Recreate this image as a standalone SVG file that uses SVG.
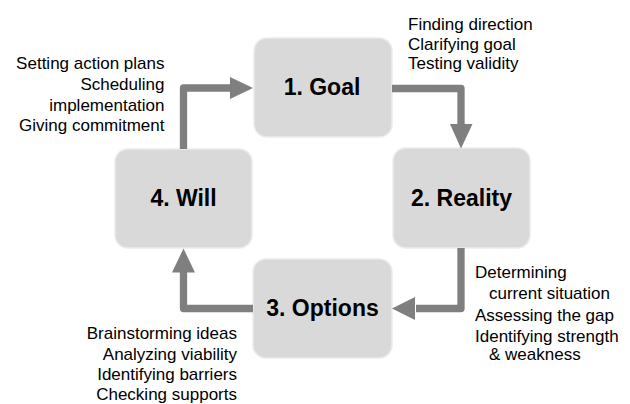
<svg xmlns="http://www.w3.org/2000/svg" width="630" height="404" viewBox="0 0 630 404">
<style>
.box{fill:#d9d9d9;stroke:#ebebeb;stroke-width:1.5}
.lbl{font-family:"Liberation Sans",Arial,sans-serif;font-weight:bold;font-size:23px;fill:#000;text-anchor:middle}
.txt{font-family:"Liberation Sans",Arial,sans-serif;font-size:17px;fill:#000}
.r{text-anchor:end}
.conn path{fill:none;stroke:#7f7f7f;stroke-width:7.3;stroke-linejoin:round}
.conn polygon{fill:#7f7f7f}
</style>
<rect width="630" height="404" fill="#fff"/>
<g id="goal">
<rect class="box" x="254" y="38" width="138" height="99" rx="13"/>
<text class="lbl" x="322" y="95">1. Goal</text>
<text class="txt" x="408" y="29.5">Finding direction</text>
<text class="txt" x="408" y="49.5">Clarifying goal</text>
<text class="txt" x="408" y="69">Testing validity</text>
</g>
<g id="reality">
<rect class="box" x="393" y="148" width="137" height="100" rx="13"/>
<text class="lbl" x="461.5" y="206">2. Reality</text>
<text class="txt" x="475" y="277.5">Determining</text>
<text class="txt" x="489" y="299">current situation</text>
<text class="txt" x="475" y="320.5">Assessing the gap</text>
<text class="txt" x="475" y="341.5">Identifying strength</text>
<text class="txt" x="489" y="360">&amp; weakness</text>
</g>
<g id="options">
<rect class="box" x="253" y="259" width="139" height="99" rx="13"/>
<text class="lbl" x="322.5" y="315.5">3. Options</text>
<text class="txt r" x="237" y="339">Brainstorming ideas</text>
<text class="txt r" x="237" y="359.5">Analyzing viability</text>
<text class="txt r" x="237" y="380">Identifying barriers</text>
<text class="txt r" x="237" y="400">Checking supports</text>
</g>
<g id="will">
<rect class="box" x="115" y="149" width="137" height="99" rx="13"/>
<text class="lbl" x="183.5" y="206">4. Will</text>
<text class="txt r" x="164.5" y="69">Setting action plans</text>
<text class="txt r" x="164.5" y="90">Scheduling</text>
<text class="txt r" x="164.5" y="111">implementation</text>
<text class="txt r" x="164.5" y="131">Giving commitment</text>
</g>
<g id="connectors" class="conn">
<path d="M183.5 149 V88 H231"/>
<polygon points="230,77 253,88 230,99"/>
<path d="M392 88.5 H461 V125"/>
<polygon points="450,124 461,148.5 472.5,124"/>
<path d="M461 248 V308.5 H416"/>
<polygon points="415,297 392,308.5 415,320"/>
<path d="M253 308.5 H183.5 V271.5"/>
<polygon points="172,272.5 183.5,248.5 195,272.5"/>
</g>
</svg>
